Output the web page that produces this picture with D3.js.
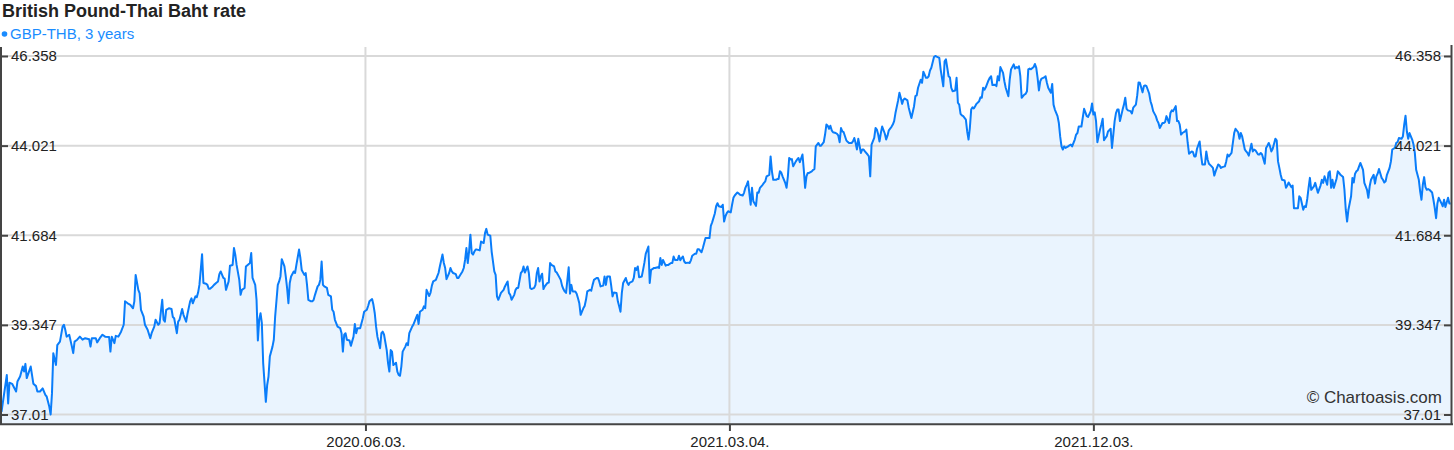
<!DOCTYPE html>
<html><head><meta charset="utf-8">
<script src="https://cdn.jsdelivr.net/npm/d3@7"></script>
<style>
body{margin:0;background:#fff;}
svg{display:block;font-family:"Liberation Sans",Arial,sans-serif;}
</style>
</head><body>
<svg id="c" width="1454" height="450"></svg>
<script>
const title = "British Pound-Thai Baht rate";
const seriesName = "GBP-THB, 3 years";
const copyright = "\u00A9 Chartoasis.com";
const startDate = "2019-09-03";
const dayOffsets = [
0,4,5,6,8,11,12,14,16,17,18,19,22,24,26,27,29,31,33,34,36,37,38,39,41,42,44,46,47,48,
49,51,53,54,55,57,59,61,63,66,67,68,71,72,74,76,78,81,82,83,85,86,88,90,92,93,95,97,99,100,
101,103,104,105,107,108,110,112,113,115,116,118,119,121,122,123,124,126,128,129,130,132,133,134,
136,137,139,140,142,143,144,146,147,148,149,150,151,152,154,155,156,157,159,160,
162,163,164,165,167,168,169,171,172,174,175,176,177,179,180,181,183,184,186,187,
188,189,191,192,193,194,195,196,197,199,200,201,202,204,205,206,208,209,210,211,
213,214,215,216,217,218,220,221,222,224,225,226,228,229,230,231,233,234,235,236,
238,239,240,241,242,243,245,246,248,249,250,251,253,255,256,257,258,259,260,262,
263,265,266,267,268,270,
272,273,275,276,277,279,280,281,282,283,285,286,287,288,290,291,292,293,294,295,
297,298,299,300,301,302,304,305,306,307,309,310,312,313,314,315,317,318,319,320,
322,323,324,325,327,328,329,330,332,333,334,335,337,338,339,340,342,343,344,345,
347,348,349,350,351,352,353,354,355,356,357,358,360,361,363,364,365,366,368,369,
371,372,373,374,376,377,378,379,381,382,383,384,386,387,388,389,391,392,393,394,
396,397,398,399,401,402,403,404,405,406,
407,408,409,411,412,413,414,416,417,418,419,421,422,423,424,425,427,428,429,430,
432,433,434,435,436,438,439,440,441,443,444,445,446,448,449,450,451,453,454,455,
456,458,459,460,461,463,464,465,466,467,468,470,471,472,473,475,476,477,478,479,
480,482,483,484,485,487,488,489,490,491,492,494,495,496,497,498,500,501,502,504,
505,506,507,509,510,511,512,513,514,515,517,518,519,520,522,523,524,525,527,528,
529,530,532,533,534,535,537,538,539,540,542,
543,544,545,546,547,549,550,551,552,554,555,556,558,559,560,561,562,564,565,566,
568,569,570,571,573,574,575,576,578,579,580,581,583,584,585,586,587,588,590,591,
592,593,594,595,596,598,599,600,601,603,604,605,606,607,608,610,611,612,613,615,
616,617,619,620,621,622,623,624,625,626,628,629,630,631,632,633,634,636,637,638,
640,641,642,643,644,645,647,648,649,650,652,653,654,655,657,658,659,660,661,662,
663,665,666,667,668,670,671,672,673,675,676,677,
678,679,680,682,683,684,685,687,688,689,690,692,693,694,696,697,698,699,700,702,
703,704,706,707,708,709,710,711,713,714,715,716,718,719,720,721,722,723,724,726,
727,728,729,730,731,732,733,734,736,737,738,739,740,741,743,744,745,746,748,749,
750,751,752,754,755,756,758,759,760,762,763,764,765,766,767,768,770,771,772,773,
774,775,777,778,779,780,781,782,783,785,786,787,788,790,791,792,793,795,796,797,
798,799,800,801,803,804,805,806,808,809,810,811,813,
815,816,817,818,820,821,822,823,824,825,827,828,829,830,831,832,833,835,836,837,
838,839,840,841,842,844,845,846,847,848,850,851,852,854,855,856,857,859,860,861,
862,864,865,866,867,869,870,871,872,874,875,876,877,879,880,881,882,884,885,886,
887,888,889,891,892,893,894,896,897,898,899,900,902,903,904,906,907,908,909,911,
912,913,914,916,917,918,919,921,922,923,924,926,927,928,929,931,932,933,934,936,
937,938,939,941,942,943,944,946,947,948,949,951,952,953,954,
955,956,957,959,960,961,962,963,964,966,967,968,969,971,972,973,974,976,977,978,
980,981,982,983,984,985,986,988,989,990,991,993,994,995,996,998,999,1000,1001,1002,
1003,1005,1006,1007,1008,1010,1011,1012,1013,1014,1016,1017,1018,1019,1020,1021,1023,1024,1025,1026,
1028,1029,1030,1031,1033,1034,1035,1036,1037,1039,1040,1041,1042,1043,1045,1046,1047,1049,1050,1051,
1052,1054,1055,1056,1057,1058,1059,1060,1062,1063,1064,1065,1067,1068,1069,1070,1071,1072,1073,1074,
1075,1077,1078,1079,1080,1081,1082,1084,1085,1086,1087,1089,1090,1091
];
const rates = [
37.08,38.04,37.30,37.84,37.81,37.61,37.87,38.00,38.26,38.13,38.33,37.96,38.26,37.81,37.75,37.61,37.61,37.69,37.52,37.48,37.21,37.01,37.56,38.61,38.30,38.82,38.91,39.30,39.35,39.22,
39.04,39.09,38.78,38.61,38.91,38.96,39.04,38.96,39.00,38.97,38.78,39.00,39.00,38.89,39.00,39.09,39.04,39.03,38.65,39.04,38.87,39.06,39.04,39.17,39.35,39.96,39.91,39.87,39.78,39.96,
40.65,40.26,40.17,39.74,39.56,39.35,39.22,39.00,39.13,39.30,39.48,39.35,39.39,40.00,39.48,39.43,39.74,39.78,39.76,39.55,39.52,39.13,39.43,39.48,
39.76,39.61,39.43,39.63,39.96,40.04,39.91,40.09,40.07,40.19,40.39,40.78,41.19,40.44,40.42,40.39,40.29,40.29,40.35,40.39,
40.45,40.48,40.67,40.74,40.57,40.55,40.26,40.48,40.89,40.91,41.35,41.18,40.91,40.52,40.13,40.26,40.31,40.87,40.93,40.96,
41.22,40.57,40.39,40.00,38.94,39.48,39.65,39.39,38.35,37.34,37.78,38.00,38.52,38.78,38.96,39.56,40.39,40.48,40.61,41.06,
40.87,40.61,40.31,39.91,40.44,40.61,40.74,40.70,40.91,41.31,41.09,40.78,40.65,40.70,40.39,40.00,39.96,39.96,40.00,40.13,
40.35,40.39,40.52,41.00,40.39,40.35,40.31,40.13,40.09,39.74,39.69,39.48,39.30,39.26,39.13,38.65,39.09,39.13,38.96,38.94,
38.80,39.04,39.37,39.13,39.26,39.26,
39.52,39.69,39.74,39.84,39.96,40.02,39.87,39.65,39.30,39.04,38.74,39.13,39.17,39.09,38.69,38.35,38.13,38.69,38.65,38.30,
38.36,38.13,38.04,38.02,38.26,38.65,38.78,38.87,38.82,39.13,39.29,39.35,39.52,39.61,39.37,39.69,39.74,39.83,39.78,40.26,
40.10,40.19,40.37,40.48,40.52,40.61,40.70,40.87,41.18,40.96,40.83,40.54,40.70,40.83,40.74,40.70,40.67,40.57,40.57,40.63,
40.74,40.83,41.04,41.35,40.96,41.26,41.70,41.22,41.18,41.26,41.31,41.31,41.29,41.52,41.48,41.74,41.85,41.70,41.67,41.26,
40.74,40.65,40.09,40.00,40.18,40.22,40.26,40.35,40.48,40.18,40.13,40.00,40.13,40.26,40.31,40.31,40.70,40.74,40.87,40.71,
40.87,40.70,40.31,40.28,40.31,40.39,40.70,40.83,40.48,40.61,
40.68,40.28,40.35,40.44,40.45,40.96,40.91,40.87,40.74,40.71,40.65,40.52,40.37,40.28,40.22,40.18,40.85,40.16,40.39,40.22,
40.22,40.16,40.04,39.91,39.61,39.78,39.84,40.00,40.22,40.26,40.24,40.39,40.52,40.57,40.57,40.48,40.35,40.37,40.61,40.39,
40.61,40.61,40.37,40.09,40.19,40.18,39.96,39.83,39.69,40.18,40.44,40.57,40.45,40.39,40.45,40.48,40.57,40.83,40.78,40.87,
40.59,40.61,40.78,40.97,41.20,41.39,40.44,40.78,40.80,40.83,40.83,40.85,40.83,41.09,40.91,41.04,40.89,40.91,40.91,40.96,
40.96,41.13,41.04,41.04,41.15,41.03,41.09,41.13,41.00,40.96,40.97,40.96,41.03,41.15,41.20,41.20,41.32,41.32,41.24,41.35,
41.48,41.61,41.61,41.61,41.93,42.02,42.25,42.44,42.52,42.44,42.42,
42.48,42.04,42.18,42.26,42.31,42.28,42.48,42.66,42.72,42.80,42.77,42.74,42.72,42.79,42.92,43.00,43.09,42.48,42.92,42.57,
42.45,42.80,42.79,42.92,43.00,43.05,43.09,43.22,43.26,43.74,43.35,43.13,43.13,43.15,43.15,43.35,43.32,43.22,43.05,42.92,
43.22,43.70,43.66,43.67,43.48,43.61,43.66,43.70,43.59,43.79,43.39,42.92,43.22,43.31,43.31,43.35,43.39,43.41,44.00,44.09,
44.02,44.02,44.11,44.31,44.57,44.54,44.46,44.54,44.42,44.37,44.35,44.33,44.28,44.11,44.48,44.39,44.37,44.16,44.12,44.09,
44.09,44.13,44.22,44.09,43.92,44.20,43.83,43.92,43.92,43.87,43.79,43.74,43.22,44.05,44.22,44.48,44.44,44.31,44.13,44.35,
44.52,44.33,44.18,44.28,44.42,44.51,44.57,44.66,44.87,45.20,45.40,45.27,
45.11,45.22,45.25,45.20,45.01,44.87,44.74,45.05,45.31,45.33,45.53,45.74,45.66,45.95,45.79,45.79,45.83,45.98,46.05,46.33,
46.358,46.34,46.31,46.01,45.79,45.57,46.22,46.27,45.83,45.80,45.53,45.44,45.46,45.79,45.14,45.09,44.85,44.81,44.79,44.70,
44.39,44.18,44.48,44.96,45.02,44.99,45.05,45.11,45.18,45.28,45.27,45.53,45.48,45.54,45.72,45.79,45.83,45.60,45.61,45.57,
45.83,45.72,46.07,45.92,45.70,45.53,45.31,45.74,46.01,46.14,46.03,46.07,46.05,46.09,45.83,45.27,45.35,45.37,45.44,46.01,
46.03,46.01,46.07,46.15,46.05,45.79,45.46,45.70,45.77,45.80,45.83,45.66,45.53,45.40,45.63,45.09,44.96,44.79,44.61,44.26,
44.00,43.92,44.00,43.96,44.00,44.03,44.05,44.00,44.18,44.31,44.35,44.52,44.52,
44.98,44.89,44.79,44.77,44.92,45.12,44.83,44.89,44.66,44.11,44.44,44.57,44.72,44.16,44.22,44.26,44.39,44.46,43.96,44.31,
44.66,44.87,44.96,44.96,44.66,44.96,45.09,45.27,44.98,44.94,44.92,44.86,45.01,45.09,45.33,45.67,45.66,45.41,45.57,45.59,
45.57,45.38,45.18,45.07,44.92,44.79,44.68,44.61,44.48,44.61,44.61,44.64,44.79,44.61,44.87,44.94,44.92,45.05,44.66,44.66,
44.57,44.31,44.35,44.39,44.44,44.09,43.81,43.87,43.85,43.74,43.74,43.94,44.13,43.79,43.53,43.53,43.87,43.66,43.55,43.48,
43.44,43.24,43.35,43.53,43.50,43.44,43.46,43.48,43.61,43.79,43.74,43.83,44.09,44.35,44.46,44.37,44.20,44.35,44.26,43.92,
43.87,43.83,43.76,44.07,43.87,43.92,43.90,43.79,43.79,43.83,43.79,43.55,43.96,44.02,44.09,
44.00,43.87,43.94,44.20,44.16,43.61,43.44,43.26,43.13,43.11,42.92,42.98,43.06,42.94,42.98,42.39,42.39,42.39,42.70,42.66,
42.35,42.44,42.42,42.63,42.92,43.18,42.87,42.96,43.05,42.92,42.79,42.98,43.13,43.05,43.22,43.00,43.31,43.35,42.92,43.13,
42.92,43.15,43.35,43.31,43.26,43.20,42.87,42.35,42.04,42.35,42.70,43.18,43.06,43.29,43.35,43.38,43.57,43.48,43.39,43.05,
42.87,42.66,42.96,43.13,43.26,43.03,43.22,43.29,43.41,43.18,43.13,43.06,43.09,43.26,43.44,43.61,43.92,43.96,44.09,44.11,
44.22,44.20,44.26,44.57,44.80,44.39,44.20,44.35,44.18,44.05,43.83,43.39,43.13,42.83,42.61,43.00,43.20,42.94,42.87,42.89,
42.87,42.80,42.61,42.39,42.13,42.52,42.66,42.52,42.44,42.61,42.42,42.66,42.51,42.51
];
const yTicks = [37.01, 39.347, 41.684, 44.021, 46.358];
const yTickLabels = ["37.01", "39.347", "41.684", "44.021", "46.358"];
const xTicks = ["2020-06-03", "2021-03-04", "2021-12-03"];
const xTickLabels = ["2020.06.03.", "2021.03.04.", "2021.12.03."];

const lineColor = "#0a7dfa", fillColor = "#eaf4fe", gridColor = "#d9d9d9", axisColor = "#444";
const plot = {left: 1, right: 1451, top: 47, bottom: 424};

if (dayOffsets.length !== rates.length) console.error("length mismatch", dayOffsets.length, rates.length);
const parseDay = d3.utcParse("%Y-%m-%d");
const start = parseDay(startDate);
const data = dayOffsets.map((d, i) => ({date: d3.utcDay.offset(start, d), v: rates[i]}));
const xTickDates = xTicks.map(parseDay);

const x = d3.scaleUtc().domain(d3.extent(data, d => d.date)).range([1.5, 1450.7]);
const y = d3.scaleLinear().domain([yTicks[0], yTicks[yTicks.length - 1]]).range([414.5, 56]);

const svg = d3.select("#c");

// area fill
svg.append("path").datum(data)
  .attr("fill", fillColor)
  .attr("d", d3.area().x(d => x(d.date)).y0(plot.bottom).y1(d => y(d.v)));

// grid
svg.append("g").selectAll("line").data(yTicks).join("line")
  .attr("x1", plot.left).attr("x2", plot.right)
  .attr("y1", d => y(d)).attr("y2", d => y(d))
  .attr("stroke", gridColor).attr("stroke-width", 2);
svg.append("g").selectAll("line").data(xTickDates).join("line")
  .attr("x1", d => x(d)).attr("x2", d => x(d))
  .attr("y1", plot.top).attr("y2", plot.bottom)
  .attr("stroke", gridColor).attr("stroke-width", 2);

// line
svg.append("path").datum(data)
  .attr("fill", "none").attr("stroke", lineColor).attr("stroke-width", 2)
  .attr("stroke-linejoin", "round")
  .attr("d", d3.line().x(d => x(d.date)).y(d => y(d.v)));

function styleAxis(g) {
  g.select(".domain").remove();
  g.selectAll(".tick line").attr("stroke", axisColor).attr("stroke-width", 2);
  g.selectAll(".tick text").attr("fill", "#222").style("font-size", "15px")
    .style("font-family", '"Liberation Sans",Arial,sans-serif');
}

svg.append("g").attr("transform", `translate(${plot.left},0)`)
  .call(d3.axisRight(y).tickValues(yTicks).tickFormat((d, i) => yTickLabels[i]).tickSize(7).tickPadding(3).tickSizeOuter(0))
  .call(styleAxis);
svg.append("g").attr("transform", `translate(${plot.right},0)`)
  .call(d3.axisLeft(y).tickValues(yTicks).tickFormat((d, i) => yTickLabels[i]).tickSize(7).tickPadding(3).tickSizeOuter(0))
  .call(styleAxis);
svg.append("g").attr("transform", `translate(0,${plot.bottom})`)
  .call(d3.axisBottom(x).tickValues(xTickDates).tickFormat((d, i) => xTickLabels[i]).tickSize(7).tickPadding(5).tickSizeOuter(0))
  .call(styleAxis);

// frame
const frame = svg.append("g").attr("stroke", axisColor).attr("stroke-width", 2);
frame.append("line").attr("x1", plot.left).attr("x2", plot.left).attr("y1", plot.top).attr("y2", plot.bottom + 1);
frame.append("line").attr("x1", plot.right + 0.5).attr("x2", plot.right + 0.5).attr("y1", 45).attr("y2", plot.bottom + 1);
frame.append("line").attr("x1", 0).attr("x2", 1453).attr("y1", plot.bottom + 0.3).attr("y2", plot.bottom + 0.3);

// copyright
svg.append("text").attr("x", 1442).attr("y", 402.5).attr("text-anchor", "end")
  .attr("fill", "#333").style("font-size", "17px").text(copyright);

// title & legend
svg.append("text").attr("x", 2).attr("y", 17).attr("fill", "#222")
  .style("font-size", "18px").style("font-weight", "bold").text(title);
svg.append("circle").attr("cx", 4.5).attr("cy", 34).attr("r", 2.8).attr("fill", "#1a8cff");
svg.append("text").attr("x", 10).attr("y", 39.3).attr("fill", "#1a8cff")
  .style("font-size", "15px").text(seriesName);
</script>
</body></html>
